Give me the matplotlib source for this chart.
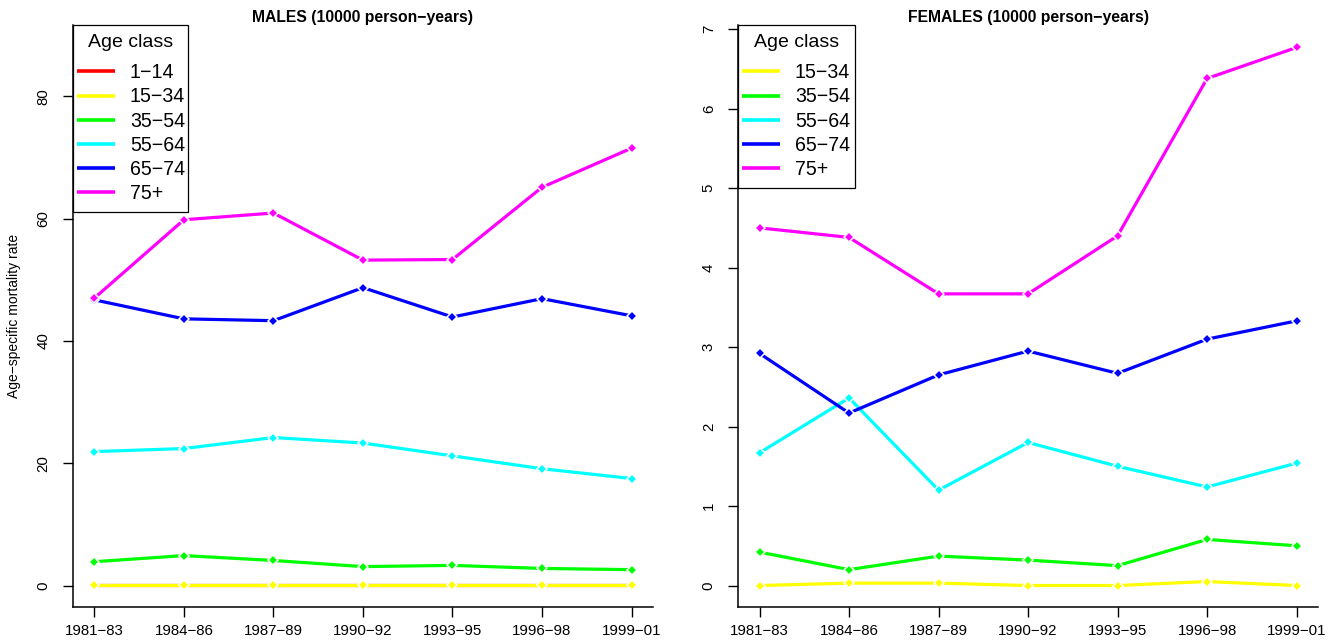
import numpy as np
import matplotlib
matplotlib.use("Agg")
import matplotlib.pyplot as plt
from matplotlib.patches import Rectangle

plt.rcParams['font.family'] = ['Liberation Sans', 'DejaVu Sans']

# Period labels (x axis)
periods = ["1981−83", "1984−86", "1987−89", "1990−92", "1993−95", "1996−98", "1999−01"]

# Males, rate per 10000 person-years
m_1_14 = [0.02, 0.02, 0.02, 0.02, 0.02, 0.02, 0.02]
m_15_34 = [0.15, 0.15, 0.15, 0.15, 0.15, 0.15, 0.15]
m_35_54 = [3.9, 4.9, 4.1, 3.1, 3.3, 2.8, 2.6]
m_55_64 = [21.9, 22.4, 24.2, 23.3, 21.2, 19.1, 17.5]
m_65_74 = [46.7, 43.6, 43.3, 48.7, 43.9, 46.9, 44.1]
m_75 = [47.0, 59.8, 60.9, 53.2, 53.3, 65.1, 71.5]

# Females, rate per 10000 person-years
f_15_34 = [0.0, 0.03, 0.03, 0.0, 0.0, 0.05, 0.0]
f_35_54 = [0.42, 0.20, 0.37, 0.32, 0.25, 0.58, 0.50]
f_55_64 = [1.67, 2.36, 1.20, 1.80, 1.50, 1.24, 1.54]
f_65_74 = [2.92, 2.17, 2.65, 2.95, 2.67, 3.10, 3.33]
f_75 = [4.50, 4.38, 3.67, 3.67, 4.40, 6.38, 6.77]

male_labels = ["1−14", "15−34", "35−54", "55−64", "65−74", "75+"]
male_series = [m_1_14, m_15_34, m_35_54, m_55_64, m_65_74, m_75]
male_colors = ["#ff0000", "#ffff00", "#00ff00", "#00ffff", "#0000ff", "#ff00ff"]

female_labels = ["15−34", "35−54", "55−64", "65−74", "75+"]
female_series = [f_15_34, f_35_54, f_55_64, f_65_74, f_75]
female_colors = ["#ffff00", "#00ff00", "#00ffff", "#0000ff", "#ff00ff"]

x = np.arange(1, len(periods) + 1)

fig = plt.figure(figsize=(13.31, 6.4), dpi=100)
ax1 = fig.add_axes([0.0548, 0.0516, 0.4358, 0.909])
ax2 = fig.add_axes([0.5545, 0.0516, 0.4358, 0.909])


def draw_panel(ax, series, labels, colors, title, ylim, yticks, box_w, box_h):
    handles = []
    for vals, lab, col in zip(series, labels, colors):
        h, = ax.plot(x, vals, color=col, lw=2.3, solid_capstyle='butt', label=lab)
        ax.plot(x, vals, linestyle='none', marker='D', ms=5, color=col,
                markeredgecolor='white', markeredgewidth=1.1)
        handles.append(h)
    ax.set_xlim(0.76, 7.24)
    ax.set_ylim(*ylim)
    ax.set_xticks(x)
    ax.set_xticklabels(periods, fontsize=10.8)
    ax.set_yticks(yticks)
    ax.set_yticklabels([str(t) for t in yticks], fontsize=10.8, rotation=90, va='center')
    ax.tick_params(direction='out', length=7, width=1)
    ax.tick_params(axis='y', pad=9)
    ax.tick_params(axis='x', pad=5.5)
    for s in ['top', 'right']:
        ax.spines[s].set_visible(False)
    for s in ['left', 'bottom']:
        ax.spines[s].set_linewidth(1.1)
    ax.set_title(title, fontsize=11.3, fontweight='bold', pad=2)

    # legend: white box with black frame, title, then entries
    ax.add_patch(Rectangle((0, 1 - box_h), box_w, box_h, transform=ax.transAxes,
                           facecolor='white', edgecolor='black', lw=0.9,
                           zorder=4, clip_on=False))
    ax.text(box_w / 2, 0.9708, "Age class", transform=ax.transAxes, fontsize=14,
            ha='center', va='center', zorder=6)
    leg = ax.legend(handles=handles, labels=labels, loc='upper left',
                    bbox_to_anchor=(0.0069, 0.9347), frameon=False,
                    fontsize=14.1, borderaxespad=0, borderpad=0,
                    handlelength=1.95, handletextpad=0.75, labelspacing=0.266)
    leg.set_zorder(6)
    for ln in leg.get_lines():
        ln.set_linewidth(2.6)
    return ax


draw_panel(ax1, male_series, male_labels, male_colors, "MALES (10000 person−years)",
           (-3.5, 91.6), [0, 20, 40, 60, 80], 0.1983, 0.3213)
ax1.set_ylabel("Age−specific mortality rate", fontsize=10, labelpad=11)

draw_panel(ax2, female_series, female_labels, female_colors, "FEMALES (10000 person−years)",
           (-0.27, 7.05), [0, 1, 2, 3, 4, 5, 6, 7], 0.2017, 0.280)

fig.savefig("out.png", dpi=100)
